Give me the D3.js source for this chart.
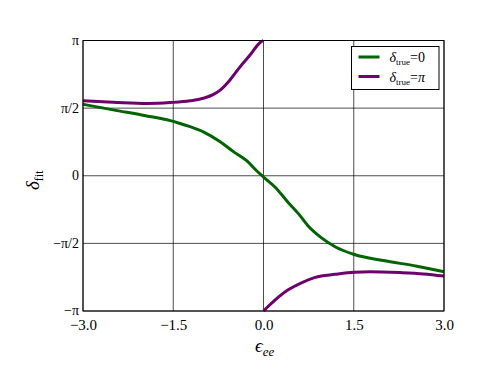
<!DOCTYPE html>
<html>
<head>
<meta charset="utf-8">
<script src="https://cdn.jsdelivr.net/npm/d3@7"></script>
<style>
  body { margin: 0; background: #fff; }
  svg text, svg tspan { font-family: 'Liberation Serif', 'DejaVu Serif', 'Times New Roman', serif !important; fill: #000; }
</style>
</head>
<body>
<div id="chart"></div>
<script>
// eps_ee values and fitted delta
var greenX = [-3.0, -2.5, -1.94, -1.55, -1.4, -1.22, -1.0, -0.72, -0.5, -0.28, -0.11, 0.0,
              0.19, 0.41, 0.58, 0.75, 0.97, 1.19, 1.51, 1.99, 2.55, 3.0];
var greenY = [1.66, 1.53, 1.39, 1.28, 1.22, 1.14, 1.02, 0.79, 0.56, 0.35, 0.11, -0.03,
              -0.26, -0.62, -0.88, -1.18, -1.45, -1.65, -1.83, -1.97, -2.10, -2.23];

var purpleUpX = [-3.0, -2.5, -1.94, -1.55, -1.22, -1.0, -0.83, -0.72, -0.56, -0.39, -0.22, -0.06, 0.0];
var purpleUpY = [1.74, 1.71, 1.68, 1.70, 1.74, 1.80, 1.89, 1.99, 2.22, 2.53, 2.81, 3.09, Math.PI];

var purpleLoX = [0.0, 0.19, 0.41, 0.64, 0.86, 1.19, 1.51, 1.77, 2.27, 2.66, 3.0];
var purpleLoY = [-Math.PI, -2.89, -2.65, -2.48, -2.36, -2.29, -2.24, -2.23, -2.25, -2.28, -2.33];

var xTicks = [-3.0, -1.5, 0.0, 1.5, 3.0];
var xTickLabels = ["\u22123.0", "\u22121.5", "0.0", "1.5", "3.0"];
var yTicks = [-Math.PI, -Math.PI / 2, 0, Math.PI / 2, Math.PI];
var yTickLabels = ["\u2212\u03c0", "\u2212\u03c0/2", "0", "\u03c0/2", "\u03c0"];

var seriesNames = ["0", "\u03c0"];
var seriesColors = ["#006400", "#6e006e"];

(function() {
    var width = 498, height = 374;
    var mLeft = 83, mRight = 444, mTop = 40.5, mBottom = 311;
    var serif = "'Liberation Serif', 'DejaVu Serif', serif";

    var svg = d3.select("#chart").append("svg")
        .attr("width", width)
        .attr("height", height)
        .attr("font-family", serif);

    var x = d3.scaleLinear().domain([-3, 3]).range([mLeft, mRight]);
    var y = d3.scaleLinear().domain([-Math.PI, Math.PI]).range([mBottom, mTop]);

    // grid
    svg.append("g").selectAll("line").data(xTicks).enter().append("line")
        .attr("x1", function(d) { return x(d); })
        .attr("x2", function(d) { return x(d); })
        .attr("y1", mTop).attr("y2", mBottom)
        .attr("stroke", "#000").attr("stroke-width", 0.7);

    svg.append("g").selectAll("line").data(yTicks).enter().append("line")
        .attr("x1", mLeft).attr("x2", mRight)
        .attr("y1", function(d) { return y(d); })
        .attr("y2", function(d) { return y(d); })
        .attr("stroke", "#000").attr("stroke-width", 0.7);

    // curves
    var line = d3.line()
        .x(function(d) { return x(d[0]); })
        .y(function(d) { return y(d[1]); })
        .curve(d3.curveMonotoneX);

    function pairs(xs, ys) {
        return xs.map(function(v, i) { return [v, ys[i]]; });
    }

    svg.append("path")
        .datum(pairs(greenX, greenY))
        .attr("d", line)
        .attr("fill", "none")
        .attr("stroke", seriesColors[0])
        .attr("stroke-width", 3);

    [pairs(purpleUpX, purpleUpY), pairs(purpleLoX, purpleLoY)].forEach(function(seg) {
        svg.append("path")
            .datum(seg)
            .attr("d", line)
            .attr("fill", "none")
            .attr("stroke", seriesColors[1])
            .attr("stroke-width", 3);
    });

    // frame
    svg.append("rect")
        .attr("x", mLeft).attr("y", mTop)
        .attr("width", mRight - mLeft).attr("height", mBottom - mTop)
        .attr("fill", "none").attr("stroke", "#000").attr("stroke-width", 1);

    // axes
    var xAxis = d3.axisBottom(x).tickValues(xTicks)
        .tickFormat(function(d, i) { return xTickLabels[i]; })
        .tickSize(0).tickPadding(8);
    var gx = svg.append("g").attr("transform", "translate(0," + mBottom + ")").call(xAxis);
    gx.select(".domain").remove();
    gx.attr("font-family", serif);
    gx.selectAll("text").attr("font-size", 15);

    var yAxis = d3.axisLeft(y).tickValues(yTicks)
        .tickFormat(function(d, i) { return yTickLabels[i]; })
        .tickSize(0).tickPadding(4);
    var gy = svg.append("g").attr("transform", "translate(" + mLeft + ",0)").call(yAxis);
    gy.select(".domain").remove();
    gy.attr("font-family", serif);
    gy.selectAll("text").attr("font-size", 14).attr("dy", "0.28em");

    // axis labels
    var xl = svg.append("text")
        .attr("x", 255).attr("y", 352)
        .attr("font-size", 19).attr("font-style", "italic");
    xl.append("tspan").text("\u03f5");
    xl.append("tspan").attr("font-size", 13).attr("dy", 4).text("ee");

    var yl = svg.append("text")
        .attr("transform", "translate(39,190) rotate(-90)")
        .attr("font-size", 19).attr("font-style", "italic");
    yl.append("tspan").text("\u03b4");
    yl.append("tspan").attr("font-size", 12).attr("font-style", "normal").attr("dy", 4).text("fit");

    // legend
    var lg = svg.append("g").attr("transform", "translate(351.5,46.5)");
    lg.append("rect")
        .attr("width", 87.5).attr("height", 43)
        .attr("fill", "#fff").attr("stroke", "#000").attr("stroke-width", 1);

    seriesNames.forEach(function(name, i) {
        var yy = 10.5 + i * 19.5;
        lg.append("line")
            .attr("x1", 7).attr("x2", 28)
            .attr("y1", yy).attr("y2", yy)
            .attr("stroke", seriesColors[i]).attr("stroke-width", 3);
        var t = lg.append("text")
            .attr("x", 38).attr("y", yy + 5)
            .attr("font-size", 14);
        t.append("tspan").attr("font-style", "italic").text("\u03b4");
        t.append("tspan").attr("font-size", 9).attr("dy", 3).text("true");
        t.append("tspan").attr("dy", -3).text("=");
        t.append("tspan").attr("font-style", i === 1 ? "italic" : "normal").text(name);
    });
})();
</script>
</body>
</html>
